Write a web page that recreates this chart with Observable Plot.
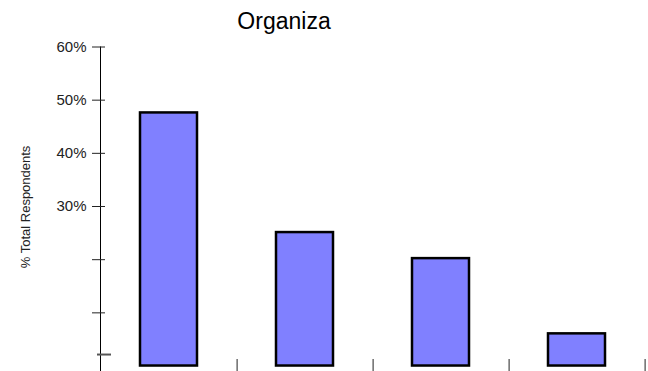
<!DOCTYPE html>
<html>
<head>
<meta charset="utf-8">
<script src="https://cdn.jsdelivr.net/npm/d3@7"></script>
<script src="https://cdn.jsdelivr.net/npm/@observablehq/plot@0.6"></script>
<style>
  html, body { margin: 0; padding: 0; background: white; }
</style>
</head>
<body>
<div id="chart"></div>
<script>
const title = "Organiza";
const yLabel = "% Total Respondents";
const categories = ["Category 1", "Category 2", "Category 3", "Category 4"];
const values = [0.476, 0.251, 0.202, 0.0605];
const yTicks = [0.1, 0.2, 0.3, 0.4, 0.5, 0.6];
const yTickLabels = ["", "", "30%", "40%", "50%", "60%"];
const extraTick = [0.0216];

const data = categories.map((c, i) => ({cat: c, value: values[i]}));
const labelMap = new Map(yTicks.map((t, i) => [t, yTickLabels[i]]));

const chart = Plot.plot({
  width: 648,
  height: 371,
  marginTop: 46.5,
  marginBottom: 0,
  marginLeft: 100,
  marginRight: 3,
  style: {fontFamily: "'Liberation Sans', Arial, sans-serif", background: "white", color: "black"},
  x: {type: "band", domain: categories, paddingInner: 0.58, paddingOuter: 0.29, axis: null},
  y: {domain: [-0.0103, 0.6], axis: null, label: null},
  marks: [
    Plot.barY(data, {x: "cat", y: "value", fill: "#8080FF", stroke: "black", strokeWidth: 2.5}),
    Plot.frame({anchor: "left", stroke: "black"}),
    Plot.axisY({ticks: yTicks, tickSize: 13, dx: 5, tickFormat: () => "", stroke: "#222", label: null}),
    Plot.axisY({ticks: yTicks, tickSize: 0, tickPadding: 14, tickFormat: d => labelMap.get(d), fontSize: 15, fill: "#222", label: null}),
    Plot.axisY({ticks: extraTick, tickSize: 14, dx: 11, tickFormat: () => "", stroke: "#555", strokeWidth: 2, label: null}),
    Plot.axisX({ticks: categories, tickSize: 12, dy: -12, dx: 68.1, tickFormat: () => "", stroke: "#222", label: null}),
    Plot.text([title], {frameAnchor: "top-left", dx: 183.5, dy: -25, text: d => d, fontSize: 23, textAnchor: "middle", lineAnchor: "middle", fill: "black"}),
    Plot.text([yLabel], {frameAnchor: "left", dx: -75, dy: 59, rotate: -90, text: d => d, fontSize: 13, textAnchor: "start", lineAnchor: "middle", fill: "#222"})
  ]
});
document.getElementById("chart").appendChild(chart);
</script>
</body>
</html>
